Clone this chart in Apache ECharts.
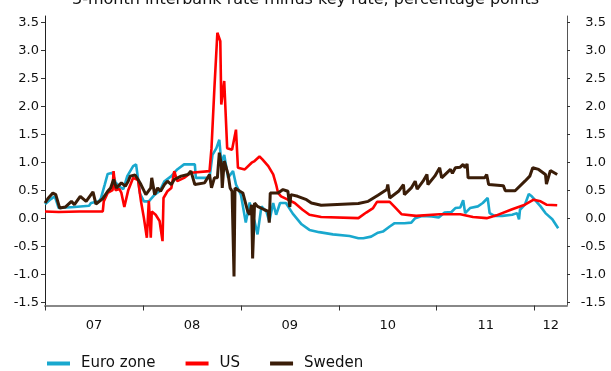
<!DOCTYPE html>
<html><head><meta charset="utf-8">
<script src="https://cdn.jsdelivr.net/npm/echarts@6/dist/echarts.min.js"></script>
<style>html,body{margin:0;padding:0;background:#fff}#c{width:611px;height:371px}</style>
</head><body><div id="c"></div>
<script>
// Decimal-year dates with values (percentage points)
const titleText = '3-month interbank rate minus key rate, percentage points';
const seriesNames = ['Euro zone', 'US', 'Sweden'];
const xTickYears = [2007, 2008, 2009, 2010, 2011, 2012];
const xTickLabels = ['07', '08', '09', '10', '11', '12'];
const yTicks = [-1.5, -1.0, -0.5, 0.0, 0.5, 1.0, 1.5, 2.0, 2.5, 3.0, 3.5];

const euroZone = [
[2007.00,0.25],[2007.06,0.34],[2007.10,0.39],[2007.12,0.39],[2007.14,0.18],[2007.30,0.20],[2007.45,0.22],[2007.47,0.27],
[2007.55,0.30],[2007.57,0.35],[2007.61,0.60],[2007.64,0.79],[2007.69,0.81],[2007.72,0.64],[2007.77,0.55],[2007.80,0.52],
[2007.84,0.75],[2007.90,0.93],[2007.93,0.96],[2007.97,0.44],[2008.01,0.30],[2008.06,0.30],[2008.12,0.42],[2008.17,0.48],
[2008.22,0.66],[2008.29,0.75],[2008.35,0.87],[2008.42,0.96],[2008.53,0.96],[2008.54,0.72],[2008.68,0.72],[2008.71,1.13],
[2008.75,1.25],[2008.78,1.40],[2008.80,0.99],[2008.83,1.13],[2008.87,0.72],[2008.92,0.84],[2008.95,0.60],[2009.00,0.42],
[2009.05,-0.08],[2009.09,0.28],[2009.12,0.05],[2009.14,-0.06],[2009.17,-0.29],[2009.21,0.21],[2009.26,0.12],[2009.29,-0.06],
[2009.33,0.27],[2009.36,0.06],[2009.40,0.27],[2009.46,0.27],[2009.53,0.08],[2009.62,-0.11],[2009.70,-0.21],[2009.80,-0.25],
[2009.94,-0.29],[2010.11,-0.32],[2010.20,-0.36],[2010.25,-0.36],[2010.33,-0.33],[2010.40,-0.26],[2010.45,-0.24],[2010.52,-0.15],
[2010.57,-0.09],[2010.67,-0.09],[2010.74,-0.08],[2010.78,0.00],[2010.85,0.04],[2010.95,0.03],[2011.02,0.01],[2011.08,0.10],
[2011.15,0.11],[2011.19,0.18],[2011.24,0.19],[2011.27,0.32],[2011.29,0.09],[2011.34,0.18],[2011.42,0.21],[2011.47,0.27],
[2011.52,0.36],[2011.54,0.09],[2011.59,0.04],[2011.67,0.04],[2011.77,0.06],[2011.82,0.09],[2011.84,-0.02],[2011.85,0.15],
[2011.90,0.24],[2011.94,0.43],[2011.97,0.39],[2012.00,0.33],[2012.06,0.21],[2012.11,0.09],[2012.18,-0.02],[2012.24,-0.18]
];

const us = [
[2007.00,0.12],[2007.14,0.11],[2007.35,0.12],[2007.59,0.12],[2007.60,0.30],[2007.64,0.45],[2007.69,0.50],[2007.70,0.84],
[2007.72,0.50],[2007.76,0.52],[2007.78,0.45],[2007.81,0.20],[2007.85,0.50],[2007.90,0.72],[2007.95,0.68],[2007.98,0.30],
[2008.01,0.00],[2008.04,-0.35],[2008.06,0.31],[2008.08,-0.35],[2008.09,0.12],[2008.13,0.06],[2008.17,-0.05],[2008.20,-0.41],
[2008.21,0.36],[2008.25,0.48],[2008.29,0.54],[2008.32,0.84],[2008.35,0.66],[2008.42,0.72],[2008.49,0.81],[2008.68,0.84],
[2008.70,1.25],[2008.73,2.33],[2008.76,3.31],[2008.79,3.16],[2008.80,2.03],[2008.83,2.45],[2008.86,1.25],[2008.91,1.22],
[2008.95,1.58],[2008.97,0.90],[2009.04,0.87],[2009.11,0.99],[2009.14,1.02],[2009.19,1.10],[2009.22,1.05],[2009.28,0.93],
[2009.33,0.78],[2009.36,0.60],[2009.38,0.45],[2009.41,0.39],[2009.48,0.33],[2009.55,0.27],[2009.63,0.15],[2009.70,0.06],
[2009.82,0.02],[2010.20,0.00],[2010.28,0.10],[2010.35,0.18],[2010.39,0.29],[2010.52,0.29],[2010.57,0.20],[2010.64,0.07],
[2010.79,0.04],[2011.03,0.07],[2011.24,0.07],[2011.37,0.02],[2011.51,0.00],[2011.61,0.05],[2011.77,0.16],[2011.90,0.24],
[2011.99,0.33],[2012.06,0.30],[2012.12,0.24],[2012.23,0.23]
];

const sweden = [
[2007.00,0.27],[2007.03,0.35],[2007.08,0.45],[2007.11,0.42],[2007.15,0.18],[2007.21,0.20],[2007.27,0.30],[2007.30,0.24],
[2007.36,0.39],[2007.42,0.30],[2007.49,0.47],[2007.52,0.25],[2007.59,0.35],[2007.64,0.48],[2007.67,0.54],[2007.70,0.69],
[2007.73,0.54],[2007.78,0.63],[2007.82,0.57],[2007.85,0.66],[2007.87,0.75],[2007.92,0.77],[2007.95,0.69],[2007.98,0.60],
[2008.03,0.42],[2008.08,0.54],[2008.09,0.72],[2008.12,0.42],[2008.15,0.54],[2008.18,0.48],[2008.22,0.60],[2008.25,0.66],
[2008.29,0.60],[2008.32,0.69],[2008.39,0.75],[2008.46,0.78],[2008.49,0.84],[2008.53,0.60],[2008.63,0.63],[2008.68,0.78],
[2008.70,0.54],[2008.73,0.72],[2008.76,0.72],[2008.78,1.17],[2008.80,0.96],[2008.81,0.54],[2008.83,1.02],[2008.87,0.78],
[2008.89,0.54],[2008.91,0.48],[2008.93,-1.04],[2008.94,0.54],[2008.99,0.48],[2009.02,0.45],[2009.07,0.12],[2009.09,0.06],
[2009.11,0.24],[2009.12,-0.72],[2009.14,0.27],[2009.17,0.21],[2009.24,0.15],[2009.28,0.12],[2009.29,-0.08],[2009.30,0.45],
[2009.38,0.45],[2009.43,0.51],[2009.48,0.48],[2009.50,0.20],[2009.51,0.42],[2009.58,0.39],[2009.67,0.33],[2009.72,0.27],
[2009.82,0.23],[2010.20,0.26],[2010.30,0.30],[2010.40,0.41],[2010.49,0.51],[2010.50,0.60],[2010.52,0.36],[2010.61,0.48],
[2010.66,0.60],[2010.67,0.42],[2010.74,0.54],[2010.78,0.66],[2010.80,0.52],[2010.86,0.66],[2010.90,0.78],[2010.91,0.60],
[2010.98,0.75],[2011.03,0.90],[2011.05,0.72],[2011.14,0.87],[2011.16,0.80],[2011.19,0.90],[2011.24,0.91],[2011.27,0.96],
[2011.29,0.90],[2011.31,0.97],[2011.32,0.72],[2011.49,0.72],[2011.51,0.78],[2011.53,0.60],[2011.68,0.58],[2011.70,0.49],
[2011.80,0.49],[2011.90,0.66],[2011.95,0.75],[2011.98,0.90],[2012.04,0.87],[2012.11,0.78],[2012.12,0.61],[2012.16,0.85],
[2012.23,0.78]
];

const X_MIN = 2007, X_MAX = 2012.33, Y_MIN = -1.56, Y_MAX = 3.61;
const labelPos = xTickYears.map(y => Math.min(y + 0.5, (y + X_MAX) / 2));
const FONT = 'DejaVu Sans';
const colors = ['#19A8CE', '#FF0000', '#3A1D08'];

function yAxisCfg(pos) {
  return {
    type: 'value', position: pos, min: Y_MIN, max: Y_MAX,
    axisLine: { show: true, onZero: false, lineStyle: { color: pos === 'left' ? '#222' : '#555', width: 1 } },
    axisTick: { show: true, inside: false, length: pos === 'left' ? 4 : 3, customValues: yTicks, lineStyle: { color: '#333' } },
    axisLabel: {
      customValues: yTicks, color: '#111', fontFamily: FONT, fontSize: 13,
      margin: pos === 'left' ? 6 : 39, align: 'right',
      formatter: v => v.toFixed(1)
    },
    splitLine: { show: false }
  };
}

const chart = echarts.init(document.getElementById('c'), null, { renderer: 'canvas' });
chart.setOption({
  animation: false,
  backgroundColor: '#fff',
  title: {
    text: titleText, left: 'center', top: -13,
    textStyle: { fontFamily: FONT, fontSize: 16, fontWeight: 'normal', color: '#111' }
  },
  grid: { left: 45, right: 44, top: 16, bottom: 65.5 },
  xAxis: {
    type: 'value', min: X_MIN, max: X_MAX,
    axisLine: { show: true, onZero: false, lineStyle: { color: '#888', width: 2 } },
    axisTick: { show: true, length: 5, customValues: xTickYears, lineStyle: { color: '#333' } },
    axisLabel: {
      customValues: labelPos, color: '#111', fontFamily: FONT, fontSize: 13, margin: 14,
      formatter: v => xTickLabels[xTickYears.indexOf(Math.floor(v))]
    },
    splitLine: { show: false }
  },
  yAxis: [yAxisCfg('left'), yAxisCfg('right')],
  legend: {
    left: 42, top: 351, itemWidth: 23, itemHeight: 4, itemGap: 30, icon: 'rect',
    textStyle: { fontFamily: FONT, fontSize: 15, color: '#111', padding: [0, 0, 0, 6] },
    data: seriesNames
  },
  series: [euroZone, us, sweden].map((d, i) => ({
    name: seriesNames[i], type: 'line', data: d, showSymbol: false, symbol: 'none',
    lineStyle: { color: colors[i], width: i === 2 ? 3 : 2.6 }, itemStyle: { color: colors[i] },
    z: 2 + i
  }))
});
</script></body></html>
